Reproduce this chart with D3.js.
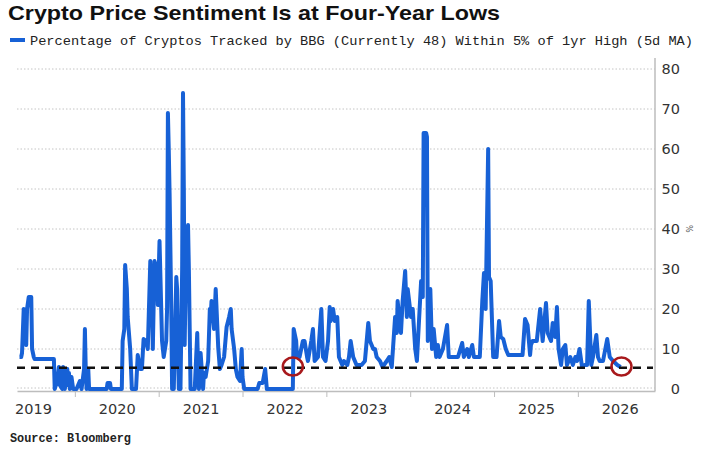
<!DOCTYPE html>
<html>
<head>
<meta charset="utf-8">
<script src="https://cdn.jsdelivr.net/npm/d3@7"></script>
<style>
  body { margin: 0; background: #fff; }
</style>
</head>
<body>
<div id="chart"></div>
<script>
// decimal years (5d MA samples)
const years = [
  2019.34, 2019.36, 2019.37, 2019.39, 2019.42, 2019.43, 2019.45, 2019.48, 2019.49, 2019.51, 2019.52, 2019.75,
  2019.76, 2019.79, 2019.81, 2019.82, 2019.85, 2019.86, 2019.87, 2019.88, 2019.91, 2019.92, 2019.93, 2019.94,
  2019.96, 2019.98,
  2020.02, 2020.06, 2020.08, 2020.11, 2020.12, 2020.13, 2020.14, 2020.16, 2020.17, 2020.18, 2020.38, 2020.39,
  2020.42, 2020.43, 2020.56, 2020.57, 2020.59, 2020.60, 2020.62, 2020.63, 2020.66, 2020.67, 2020.68, 2020.73,
  2020.75, 2020.78, 2020.80, 2020.82, 2020.85, 2020.87, 2020.90, 2020.92, 2020.93, 2020.95, 2020.98, 2020.99,
  2021.01, 2021.04, 2021.06, 2021.09, 2021.10, 2021.11, 2021.12, 2021.13, 2021.15, 2021.16, 2021.18, 2021.21,
  2021.22, 2021.23, 2021.24, 2021.26, 2021.28, 2021.29, 2021.30, 2021.31, 2021.32, 2021.35, 2021.36, 2021.37,
  2021.38, 2021.43, 2021.46, 2021.47, 2021.48, 2021.50, 2021.53, 2021.54, 2021.56, 2021.59, 2021.61, 2021.62,
  2021.63, 2021.66, 2021.68, 2021.71, 2021.73, 2021.75, 2021.78, 2021.81, 2021.84, 2021.86, 2021.87, 2021.90,
  2021.92, 2021.94, 2021.97, 2021.99,
  2022.00, 2022.02, 2022.18, 2022.20, 2022.24, 2022.27, 2022.29, 2022.60, 2022.61, 2022.64, 2022.65, 2022.68,
  2022.72, 2022.74, 2022.77, 2022.78, 2022.82, 2022.84, 2022.86, 2022.90, 2022.94, 2022.96, 2022.99,
  2023.02, 2023.04, 2023.05, 2023.08, 2023.10, 2023.13, 2023.15, 2023.19, 2023.21, 2023.25, 2023.27, 2023.29,
  2023.32, 2023.36, 2023.42, 2023.46, 2023.50, 2023.52, 2023.56, 2023.58, 2023.60, 2023.64, 2023.67, 2023.72,
  2023.75, 2023.78, 2023.82, 2023.84, 2023.85, 2023.89, 2023.91, 2023.94, 2023.96, 2023.97,
  2024.01, 2024.03, 2024.06, 2024.08, 2024.10, 2024.13, 2024.15, 2024.16, 2024.19, 2024.20, 2024.21, 2024.24,
  2024.26, 2024.28, 2024.31, 2024.33, 2024.35, 2024.39, 2024.44, 2024.46, 2024.50, 2024.57, 2024.62, 2024.64,
  2024.68, 2024.70, 2024.74, 2024.76, 2024.83, 2024.86, 2024.88, 2024.90, 2024.93, 2024.94, 2024.96, 2024.99,
  2025.03, 2025.06, 2025.08, 2025.11, 2025.14, 2025.17, 2025.34, 2025.37, 2025.40, 2025.43, 2025.44, 2025.46,
  2025.51, 2025.55, 2025.58, 2025.62, 2025.64, 2025.68, 2025.70, 2025.73, 2025.75, 2025.77, 2025.80, 2025.82,
  2025.85, 2025.87, 2025.91, 2025.94, 2025.97, 2025.99,
  2026.02, 2026.05, 2026.08, 2026.11, 2026.13, 2026.16, 2026.18, 2026.22, 2026.24, 2026.26, 2026.30, 2026.35,
  2026.38, 2026.42, 2026.47, 2026.51
];

// % of cryptos within 5% of 1yr high
const pct = [
  8, 8, 9, 20, 11, 20, 23, 23, 10, 8, 7.5, 7.5,
  0, 2, 5.5, 1, 0, 5.5, 4, 0, 5, 1, 4, 0,
  3, 0,
  0, 2, 0, 5, 15, 5, 0, 5, 0, 0, 0, 1.5,
  1.5, 0, 0, 12, 15, 31, 25, 18, 10, 5, 0, 0,
  8.5, 5, 5, 12.5, 12, 10, 32, 22, 10, 32, 30, 21,
  37, 12, 8, 12, 20, 69, 60, 49, 20, 0, 0, 28,
  25, 10, 0, 0, 30, 74, 50, 11, 25, 41, 30, 15,
  0, 0, 14, 5, 0, 9, 0, 4, 3, 7, 20, 18,
  22, 15, 25, 10.5, 5, 6, 8, 15.5, 18, 20, 15, 10,
  5, 3, 2, 10,
  3, 0, 0, 1.5, 1.5, 5, 0, 0, 15, 12, 8, 8,
  12, 12, 8, 7, 12, 15, 7, 8, 20, 8, 7,
  12, 20.5, 17, 20, 17, 18, 8, 6, 7, 6, 8, 12,
  8, 6, 6, 7, 16.5, 12, 10, 10, 8, 7, 5.5, 7,
  8, 5.5, 18, 14, 22, 14, 22, 29.5, 18, 25,
  18, 20, 10, 7, 15, 27, 23, 64, 64, 63, 12, 25,
  10, 15, 8, 11, 8, 10, 16, 8, 8, 8, 11.5, 8,
  10, 8, 11, 8, 8, 22, 29, 20, 60, 28, 27, 8,
  8, 17, 13, 12.5, 10, 8.5, 8.5, 17.5, 16, 8.5, 11, 12,
  12, 20, 12, 21.5, 14, 12, 16.5, 13, 20.5, 10, 6, 10,
  11, 6, 8, 6, 8, 7,
  10, 5.5, 6, 6, 22, 6, 8, 13.5, 8, 7, 7, 12.5,
  8, 7, 6, 5.5
];

const yearTicks = [2020, 2021, 2022, 2023, 2024, 2025, 2026];
const yearLabels = [2019, 2020, 2021, 2022, 2023, 2024, 2025, 2026];
const pctTicks = [0, 10, 20, 30, 40, 50, 60, 70, 80];
const lowLevel = 5.3;
// the two circled lows
const circleYears = [2022.60, 2026.52];
const circleValues = [5.6, 5.6];

const width = 708, height = 455;
const plotLeft = 17, plotRight = 655, plotTop = 69, plotBottom = 389;
const blue = "#1761d6";

const svg = d3.select("#chart")
  .append("svg")
  .attr("width", width)
  .attr("height", height)
  .style("font-family", "'DejaVu Sans', sans-serif");

svg.append("rect").attr("width", width).attr("height", height).attr("fill", "#fff");

const x = d3.scaleLinear().domain([2019.31, 2026.92]).range([plotLeft, plotRight]);
const y = d3.scaleLinear().domain([0, 80]).range([plotBottom, plotTop]);

// Title + legend
svg.append("text")
  .attr("x", 8).attr("y", 20)
  .attr("font-family", "'Liberation Sans', Arial, sans-serif")
  .attr("font-weight", "bold")
  .attr("font-size", 21)
  .attr("textLength", 492)
  .attr("lengthAdjust", "spacingAndGlyphs")
  .attr("fill", "#111")
  .text("Crypto Price Sentiment Is at Four-Year Lows");

svg.append("line")
  .attr("x1", 10).attr("x2", 25).attr("y1", 40).attr("y2", 40)
  .attr("stroke", blue).attr("stroke-width", 4);

svg.append("text")
  .attr("x", 30).attr("y", 45)
  .attr("font-family", "'Liberation Mono', 'DejaVu Sans Mono', monospace")
  .attr("font-size", 13.5)
  .attr("textLength", 663)
  .attr("lengthAdjust", "spacingAndGlyphs")
  .attr("fill", "#222")
  .text("Percentage of Cryptos Tracked by BBG (Currently 48) Within 5% of 1yr High (5d MA)");

// dotted gridlines
svg.append("g")
  .selectAll("line")
  .data(pctTicks)
  .enter().append("line")
  .attr("x1", plotLeft).attr("x2", plotRight)
  .attr("y1", d => y(d) - (d === 0 ? 1 : 0))
  .attr("y2", d => y(d) - (d === 0 ? 1 : 0))
  .attr("stroke", "#c4c4c4")
  .attr("stroke-width", 1)
  .attr("stroke-dasharray", "1.5,2");

// bottom axis: ticks at year boundaries, labels mid-year
const xAxis = svg.append("g")
  .attr("transform", `translate(0,${plotBottom + 2})`)
  .call(d3.axisBottom(x).tickValues(yearTicks).tickSize(6).tickSizeOuter(0).tickFormat(""));
xAxis.select(".domain").attr("stroke", "#bdbdbd").attr("stroke-width", 1.5);
xAxis.selectAll(".tick line").attr("stroke", "#bdbdbd");

const xLabels = svg.append("g")
  .attr("transform", `translate(0,${plotBottom + 2})`)
  .call(d3.axisBottom(x).tickValues(yearLabels.map(d => d + 0.5)).tickSize(0).tickPadding(13)
    .tickFormat(d => String(Math.floor(d))));
xLabels.select(".domain").remove();
xLabels.selectAll("text")
  .attr("font-family", "'DejaVu Sans', sans-serif")
  .attr("font-size", 14.5)
  .attr("fill", "#333");

// right axis
svg.append("line")
  .attr("x1", plotRight).attr("x2", plotRight)
  .attr("y1", 58).attr("y2", plotBottom + 2)
  .attr("stroke", "#bdbdbd").attr("stroke-width", 1.5);

const yAxis = svg.append("g")
  .attr("transform", `translate(${plotRight},0)`)
  .call(d3.axisRight(y).tickValues(pctTicks).tickSize(0).tickFormat(d3.format("d")));
yAxis.select(".domain").remove();
yAxis.selectAll("text")
  .attr("x", 25)
  .attr("text-anchor", "end")
  .attr("font-family", "'DejaVu Sans', sans-serif")
  .attr("font-size", 14.5)
  .attr("fill", "#333");

svg.append("text")
  .attr("transform", `translate(686,${y(40) - 4}) rotate(90)`)
  .attr("font-size", 8)
  .attr("fill", "#555")
  .text("%");

// series
const series = years.map((yr, i) => ({ yr, v: pct[i] }));
const line = d3.line()
  .x(d => x(d.yr))
  .y(d => y(d.v));

svg.append("path")
  .datum(series)
  .attr("fill", "none")
  .attr("stroke", blue)
  .attr("stroke-width", 4)
  .attr("stroke-linejoin", "round")
  .attr("d", line);

// low-level dashed line
svg.append("line")
  .attr("x1", plotLeft).attr("x2", plotRight - 2)
  .attr("y1", y(lowLevel)).attr("y2", y(lowLevel))
  .attr("stroke", "#111")
  .attr("stroke-width", 2.5)
  .attr("stroke-dasharray", "8,6");

// red circles
svg.append("g")
  .selectAll("ellipse")
  .data(circleYears)
  .enter().append("ellipse")
  .attr("cx", d => x(d))
  .attr("cy", (d, i) => y(circleValues[i]))
  .attr("rx", 10)
  .attr("ry", 9)
  .attr("fill", "none")
  .attr("stroke", "#a8191c")
  .attr("stroke-width", 2.5);

// source
svg.append("text")
  .attr("x", 10).attr("y", 442)
  .attr("font-family", "'Liberation Mono', 'DejaVu Sans Mono', monospace")
  .attr("font-weight", "bold")
  .attr("font-size", 12.5)
  .attr("textLength", 121)
  .attr("lengthAdjust", "spacingAndGlyphs")
  .attr("fill", "#222")
  .text("Source: Bloomberg");
</script>
</body>
</html>
